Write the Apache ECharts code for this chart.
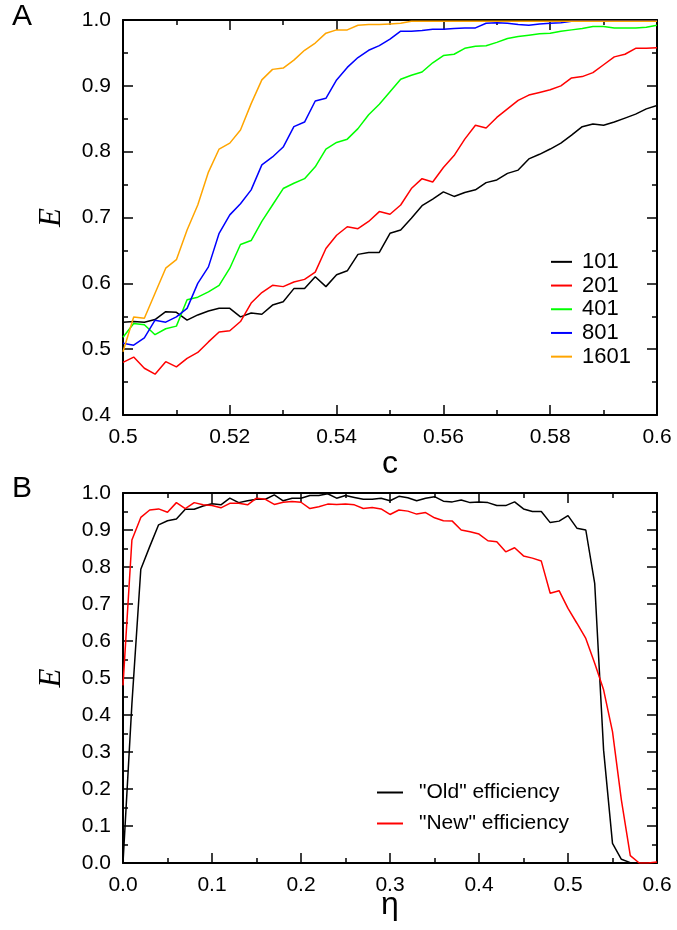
<!DOCTYPE html>
<html>
<head>
<meta charset="utf-8">
<script src="https://cdn.jsdelivr.net/npm/echarts@6/dist/echarts.min.js"></script>
<style>
  html, body { margin: 0; padding: 0; background: #fff; }
  #chart { width: 677px; height: 930px; }
</style>
</head>
<body>
<div id="chart"></div>
<script>
// panel A : E versus c, one curve per size
const cValues = [0.500, 0.502, 0.504, 0.506, 0.508, 0.510, 0.512, 0.514, 0.516, 0.518,
  0.520, 0.522, 0.524, 0.526, 0.528, 0.530, 0.532, 0.534, 0.536, 0.538,
  0.540, 0.542, 0.544, 0.546, 0.548, 0.550, 0.552, 0.554, 0.556, 0.558,
  0.560, 0.562, 0.564, 0.566, 0.568, 0.570, 0.572, 0.574, 0.576, 0.578,
  0.580, 0.582, 0.584, 0.586, 0.588, 0.590, 0.592, 0.594, 0.596, 0.598, 0.600];
const e101 = [0.541, 0.542, 0.541, 0.545, 0.557, 0.556, 0.544, 0.552, 0.558, 0.562,
  0.562, 0.549, 0.555, 0.553, 0.567, 0.572, 0.592, 0.592, 0.610, 0.595,
  0.613, 0.619, 0.644, 0.647, 0.647, 0.676, 0.681, 0.699, 0.718, 0.728,
  0.739, 0.732, 0.738, 0.742, 0.753, 0.757, 0.767, 0.772, 0.789, 0.796,
  0.804, 0.813, 0.825, 0.838, 0.842, 0.840, 0.845, 0.851, 0.857, 0.865, 0.870];
const e201 = [0.480, 0.488, 0.471, 0.462, 0.481, 0.473, 0.486, 0.495, 0.511, 0.526,
  0.528, 0.542, 0.570, 0.586, 0.597, 0.595, 0.602, 0.606, 0.617, 0.653,
  0.673, 0.686, 0.683, 0.694, 0.709, 0.705, 0.719, 0.744, 0.759, 0.754,
  0.776, 0.794, 0.819, 0.840, 0.836, 0.852, 0.865, 0.878, 0.886, 0.890,
  0.894, 0.900, 0.912, 0.914, 0.920, 0.932, 0.944, 0.948, 0.957, 0.957, 0.958];
const e401 = [0.518, 0.539, 0.537, 0.522, 0.531, 0.535, 0.575, 0.579, 0.587, 0.597,
  0.623, 0.659, 0.665, 0.694, 0.719, 0.744, 0.752, 0.759, 0.777, 0.804,
  0.814, 0.819, 0.835, 0.856, 0.872, 0.891, 0.910, 0.916, 0.921, 0.935,
  0.946, 0.948, 0.957, 0.960, 0.961, 0.966, 0.972, 0.975, 0.977, 0.979,
  0.980, 0.983, 0.985, 0.987, 0.990, 0.990, 0.988, 0.988, 0.988, 0.989, 0.992];
const e801 = [0.509, 0.506, 0.517, 0.544, 0.541, 0.549, 0.562, 0.600, 0.625, 0.676,
  0.704, 0.721, 0.742, 0.780, 0.792, 0.807, 0.838, 0.845, 0.877, 0.881,
  0.909, 0.928, 0.943, 0.954, 0.961, 0.971, 0.983, 0.983, 0.984, 0.986,
  0.986, 0.987, 0.988, 0.988, 0.995, 0.996, 0.995, 0.993, 0.992, 0.994,
  0.995, 0.996, 0.998, 0.998, 0.998, 0.998, 0.998, 0.998, 0.998, 0.998, 0.998];
const e1601 = [0.496, 0.549, 0.547, 0.585, 0.623, 0.636, 0.681, 0.719, 0.769, 0.804,
  0.813, 0.833, 0.873, 0.909, 0.925, 0.927, 0.939, 0.954, 0.965, 0.980,
  0.985, 0.985, 0.992, 0.993, 0.993, 0.994, 0.995, 0.998, 0.998, 0.998,
  0.998, 0.998, 0.998, 0.998, 0.998, 0.998, 0.998, 0.998, 0.998, 0.998,
  0.998, 0.998, 0.998, 0.998, 0.998, 0.998, 0.998, 0.998, 0.998, 0.998, 0.998];
const sizeNames = ["101", "201", "401", "801", "1601"];
const sizeColors = ["#000000", "#ff0000", "#00ff00", "#0000ff", "#ffa500"];

// panel B : E versus eta
const etaValues = [0.00, 0.01, 0.02, 0.03, 0.04, 0.05, 0.06, 0.07, 0.08, 0.09,
  0.10, 0.11, 0.12, 0.13, 0.14, 0.15, 0.16, 0.17, 0.18, 0.19,
  0.20, 0.21, 0.22, 0.23, 0.24, 0.25, 0.26, 0.27, 0.28, 0.29,
  0.30, 0.31, 0.32, 0.33, 0.34, 0.35, 0.36, 0.37, 0.38, 0.39,
  0.40, 0.41, 0.42, 0.43, 0.44, 0.45, 0.46, 0.47, 0.48, 0.49,
  0.50, 0.51, 0.52, 0.53, 0.54, 0.55, 0.56, 0.57, 0.58, 0.59, 0.60];
const eOld = [0.000, 0.430, 0.794, 0.855, 0.914, 0.925, 0.930, 0.956, 0.956, 0.965,
  0.971, 0.968, 0.986, 0.974, 0.979, 0.983, 0.983, 0.995, 0.979, 0.986,
  0.986, 0.993, 0.993, 0.998, 0.986, 0.993, 0.988, 0.983, 0.983, 0.986,
  0.979, 0.991, 0.987, 0.979, 0.986, 0.990, 0.978, 0.976, 0.981, 0.974,
  0.976, 0.974, 0.966, 0.966, 0.976, 0.957, 0.950, 0.950, 0.920, 0.924,
  0.939, 0.905, 0.900, 0.756, 0.305, 0.053, 0.010, 0.001, 0.000, 0.000, 0.000];
const eNew = [0.480, 0.873, 0.934, 0.954, 0.957, 0.948, 0.974, 0.958, 0.974, 0.968,
  0.966, 0.960, 0.972, 0.972, 0.968, 0.986, 0.983, 0.969, 0.975, 0.977,
  0.975, 0.958, 0.963, 0.970, 0.969, 0.970, 0.968, 0.958, 0.961, 0.957,
  0.942, 0.954, 0.951, 0.943, 0.947, 0.933, 0.925, 0.924, 0.900, 0.895,
  0.889, 0.871, 0.868, 0.841, 0.852, 0.830, 0.824, 0.816, 0.729, 0.736,
  0.688, 0.648, 0.607, 0.540, 0.468, 0.355, 0.170, 0.020, 0.000, 0.000, 0.003];
const effNames = ['"Old" efficiency', '"New" efficiency'];
const effColors = ["#000000", "#ff0000"];

const FONT = "Liberation Sans";

function zip(xs, ys){
  return xs.map((x, i) => [x, ys[i]]);
}

function frameAxis(extra){
  let axis = {
    type: 'value',
    axisLine: { show: true, onZero: false, lineStyle: { color: '#000', width: 2 } },
    axisTick: { show: true, inside: true, length: 10, lineStyle: { color: '#000', width: 1.5 } },
    minorTick: { show: true, splitNumber: 2, length: 5, lineStyle: { color: '#000', width: 1.5 } },
    splitLine: { show: false },
    axisLabel: { show: false },
    nameMoveOverlap: false
  };
  return Object.assign(axis, extra);
}

function tickLabel(fmt, margin){
  return { show: true, color: '#000', fontFamily: FONT, fontSize: 21, margin: margin, formatter: fmt };
}

var dom = document.getElementById('chart');
var myChart = echarts.init(dom, null, { renderer: 'canvas' });

var option = {
  animation: false,
  backgroundColor: '#fff',
  graphic: [
    { type: 'text', left: 12, top: 2, style: { text: 'A', font: '30px "Liberation Sans"', fill: '#000' } },
    { type: 'text', left: 12, top: 474, style: { text: 'B', font: '30px "Liberation Sans"', fill: '#000' } }
  ],
  grid: [
    { left: 123, right: 20, top: 20, height: 395 },
    { left: 123, right: 20, top: 493, height: 370 }
  ],
  xAxis: [
    frameAxis({ gridIndex: 0, position: 'bottom', min: 0.5, max: 0.6, interval: 0.02,
      axisLabel: tickLabel(v => String(+v.toFixed(2)), 12),
      name: 'c', nameLocation: 'middle', nameGap: 33,
      nameTextStyle: { fontFamily: FONT, fontSize: 32, color: '#000' } }),
    frameAxis({ gridIndex: 0, position: 'top', min: 0.5, max: 0.6, interval: 0.02 }),
    frameAxis({ gridIndex: 1, position: 'bottom', min: 0, max: 0.6, interval: 0.1,
      axisLabel: tickLabel(v => v.toFixed(1), 12),
      name: 'η', nameLocation: 'middle', nameGap: 26,
      nameTextStyle: { fontFamily: FONT, fontSize: 32, color: '#000' } }),
    frameAxis({ gridIndex: 1, position: 'top', min: 0, max: 0.6, interval: 0.1 })
  ],
  yAxis: [
    frameAxis({ gridIndex: 0, position: 'left', min: 0.4, max: 1.0, interval: 0.1,
      axisLabel: tickLabel(v => v.toFixed(1), 12),
      name: 'E', nameLocation: 'middle', nameGap: 56, nameRotate: 90,
      nameTextStyle: { fontFamily: 'Liberation Serif', fontStyle: 'italic', fontSize: 31, color: '#000' } }),
    frameAxis({ gridIndex: 0, position: 'right', min: 0.4, max: 1.0, interval: 0.1 }),
    frameAxis({ gridIndex: 1, position: 'left', min: 0, max: 1.0, interval: 0.1,
      axisLabel: tickLabel(v => v.toFixed(1), 12),
      name: 'E', nameLocation: 'middle', nameGap: 56, nameRotate: 90,
      nameTextStyle: { fontFamily: 'Liberation Serif', fontStyle: 'italic', fontSize: 31, color: '#000' } }),
    frameAxis({ gridIndex: 1, position: 'right', min: 0, max: 1.0, interval: 0.1 })
  ],
  legend: [
    {
      data: sizeNames, orient: 'vertical', left: 546, top: 245, padding: 5,
      icon: 'rect', itemWidth: 21, itemHeight: 2, itemGap: 0,
      textStyle: { fontFamily: FONT, fontSize: 22, color: '#000', lineHeight: 23.7, padding: [0, 0, 0, 5] }
    },
    {
      data: effNames, orient: 'vertical', left: 372, top: 772, padding: 5,
      icon: 'rect', itemWidth: 26, itemHeight: 2, itemGap: 0,
      textStyle: { fontFamily: FONT, fontSize: 21, color: '#000', lineHeight: 31, padding: [0, 0, 0, 11] }
    }
  ],
  series: []
};

let sizeSeries = [e101, e201, e401, e801, e1601];
sizeSeries.forEach((vals, i) => {
  option.series.push({
    name: sizeNames[i], type: 'line', xAxisIndex: 0, yAxisIndex: 0,
    data: zip(cValues, vals), symbol: 'none', color: sizeColors[i],
    lineStyle: { width: 1.5, color: sizeColors[i] }
  });
});

let effSeries = [eOld, eNew];
effSeries.forEach((vals, i) => {
  option.series.push({
    name: effNames[i], type: 'line', xAxisIndex: 2, yAxisIndex: 2,
    data: zip(etaValues, vals), symbol: 'none', color: effColors[i],
    lineStyle: { width: 1.5, color: effColors[i] }
  });
});

if (option && typeof option === 'object') {
  myChart.setOption(option);
}

window.addEventListener('resize', myChart.resize);
</script>
</body>
</html>
